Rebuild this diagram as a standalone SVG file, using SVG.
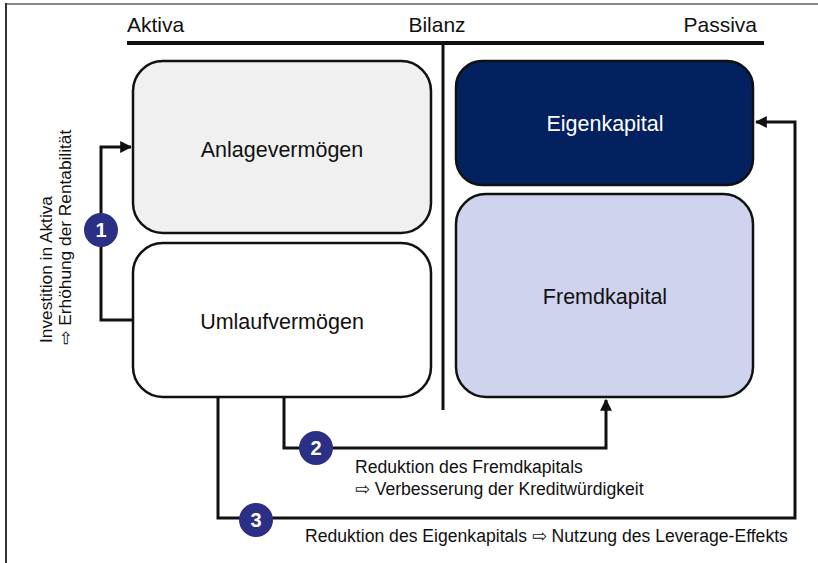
<svg xmlns="http://www.w3.org/2000/svg" width="818" height="563" viewBox="0 0 818 563">
<defs>
<style>
text{font-family:"Liberation Sans","DejaVu Sans",Arial,sans-serif;fill:#111}
.h{font-size:21px}
.n{font-size:21.5px;text-anchor:middle}
.s{font-size:17.3px}
.b{font-size:17.6px}
.box{stroke:#111;stroke-width:2.5}
.c{fill:none;stroke:#111;stroke-width:3}
.num{fill:#2b2f85}
.nt{font-size:20px;font-weight:bold;fill:#fff;text-anchor:middle}
</style>
<marker id="ah" viewBox="0 0 10 10" refX="9" refY="5" markerWidth="4" markerHeight="4" orient="auto" markerUnits="strokeWidth">
<path d="M0,0 L10,5 L0,10 z" fill="#111"/>
</marker>
</defs>
<rect width="818" height="563" fill="#fff"/>
<line x1="6" y1="4" x2="818" y2="4" stroke="#888" stroke-width="2"/>
<line x1="6" y1="3" x2="6" y2="563" stroke="#333" stroke-width="2"/>
<g id="header">
<text class="h" x="127" y="32">Aktiva</text>
<text class="h" x="437" y="32" text-anchor="middle">Bilanz</text>
<text class="h" x="757" y="32" text-anchor="end">Passiva</text>
<line x1="127" y1="43" x2="764" y2="43" stroke="#111" stroke-width="4"/>
<line x1="443" y1="43" x2="443" y2="410" stroke="#111" stroke-width="3"/>
</g>
<g id="anlage">
<rect class="box" x="133" y="61" width="298" height="172" rx="30" fill="#f0f0f0"/>
<text class="n" x="282" y="157">Anlagevermögen</text>
</g>
<g id="umlauf">
<rect class="box" x="133" y="243" width="298" height="154" rx="30" fill="#fff"/>
<text class="n" x="282" y="329">Umlaufvermögen</text>
</g>
<g id="eigen">
<rect class="box" x="456" y="61" width="297" height="124" rx="26" fill="#03205f"/>
<text class="n" x="605" y="131" style="fill:#fff">Eigenkapital</text>
</g>
<g id="fremd">
<rect class="box" x="456" y="194" width="297" height="203" rx="30" fill="#d0d3ee"/>
<text class="n" x="605" y="304">Fremdkapital</text>
</g>
<g id="connectors">
<path class="c" d="M133,320 H101 V147 H131" marker-end="url(#ah)"/>
<path class="c" d="M284,397 V448 H606 V400" marker-end="url(#ah)"/>
<path class="c" d="M218,397 V518 H795 V122 H756" marker-end="url(#ah)"/>
</g>
<g id="label1">
<circle class="num" cx="101" cy="230" r="17"/>
<text class="nt" x="101" y="237">1</text>
<text class="s" transform="translate(52,343) rotate(-90)">Investition in Aktiva</text>
<text class="s" transform="translate(71,345) rotate(-90)">⇨ Erhöhung der Rentabilität</text>
</g>
<g id="label2">
<circle class="num" cx="316" cy="448" r="17"/>
<text class="nt" x="316" y="455">2</text>
<text class="b" x="355" y="473">Reduktion des Fremdkapitals</text>
<text class="b" x="355" y="495">⇨ Verbesserung der Kreditwürdigkeit</text>
</g>
<g id="label3">
<circle class="num" cx="256" cy="520" r="17"/>
<text class="nt" x="256" y="527">3</text>
<text class="b" x="305" y="542">Reduktion des Eigenkapitals ⇨ Nutzung des Leverage-Effekts</text>
</g>
</svg>
